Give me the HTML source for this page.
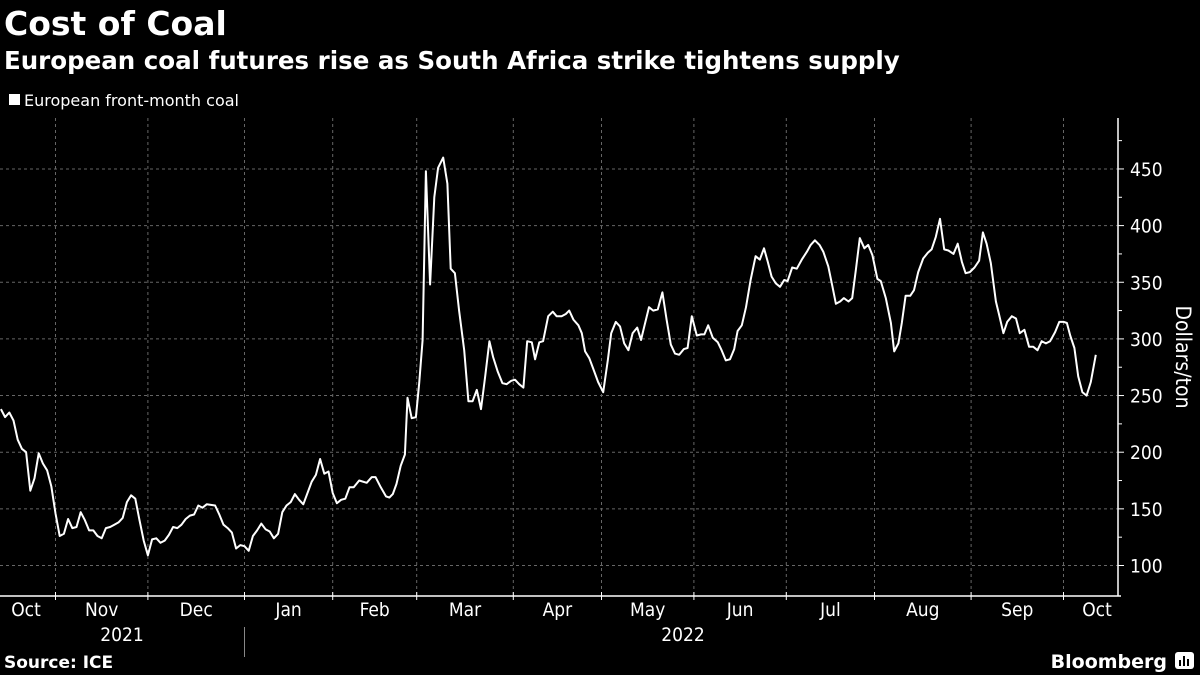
<!DOCTYPE html>
<html><head><meta charset="utf-8"><style>
html,body{margin:0;padding:0;background:#000;width:1200px;height:675px;overflow:hidden}
svg text{fill:#fff}
.t{font-family:"DejaVu Sans","Liberation Sans",sans-serif}
.c{font-family:"DejaVu Sans Condensed","Liberation Sans Narrow","Liberation Sans",sans-serif}
</style></head><body>
<svg id="chart" width="1200" height="675" xmlns="http://www.w3.org/2000/svg">
<text class="t" x="4" y="35" font-size="33" font-weight="bold">Cost of Coal</text>
<text class="t" x="4" y="69" font-size="24.5" font-weight="bold">European coal futures rise as South Africa strike tightens supply</text>
<rect x="9" y="94" width="11" height="11" fill="#fff"/>
<text class="t" x="24" y="106" font-size="16">European front-month coal</text>
<g id="grid"></g>
<g id="axes"></g>
<g id="series"></g>
<text class="c" transform="translate(1176,357) rotate(90)" text-anchor="middle" font-size="21">Dollars/ton</text>
<text class="t" x="4" y="668" font-size="17" font-weight="bold">Source: ICE</text>
<text class="t" x="1167" y="668" text-anchor="end" font-size="19" font-weight="bold">Bloomberg</text>
<g><rect x="1175" y="652" width="19" height="17" rx="3" fill="#fff"/><rect x="1179" y="660" width="2" height="6" fill="#000"/><rect x="1183" y="656" width="2" height="10" fill="#000"/><rect x="1187" y="659" width="2" height="7" fill="#000"/></g>
</svg>
<script>
// trading-day index (0 = 1 Nov 2021)
const days=[-13,-12,-11,-10,-9,-8,-7,-6,-5,-4,-3,-2,-1,0,1,2,3,4,5,6,7,8,9,10,11,12,13,14,15,16,17,18,19,20,21,22,23,24,25,26,27,28,29,30,31,32,33,34,35,36,38,39,40,41,42,43,44,45,46,47,48,49,50,51,52,53,54,55,56,57,58,59,60,61,62,63,64,65,66,67,68,69,70,71,72.3,74.1,75.3,76.2,77.3,78.7,79.5,80.3,81.2,82.2,83.2,83.8,84.8,85.8,86.6,87.4,88.2,89.2,90.2,91.1,92.3,93.3,94.1,95.1,96.1,97.3,98.3,99.3,100.3,101.3,102.3,103.3,104.2,105.3,106.4,107.4,108.5,109.4,110.4,111.4,112.3,113.4,114.2,115.2,116.1,117.3,118.4,119.3,120.5,121.5,122.3,123.3,124.5,125.3,126.1,127.1,128,129.2,130.4,131.5,132.3,133.4,134.4,135.4,136.4,137.4,138.5,139.4,140.2,141.3,142.3,143.4,144.5,145.5,146.5,147.5,148.5,149.6,150.5,151.5,152.7,153.7,154.5,155.4,156.5,157.7,158.6,159.6,160.6,161.6,162.4,163.4,164.4,165.5,166.7,167.7,168.7,169.6,170.5,171.5,172.5,173.5,174.3,175.4,176.5,177.7,178.9,179.8,180.8,181.9,182.8,184,185,185.8,186.8,187.7,188.8,189.7,190.6,191.5,192.6,193.5,194.5,195.7,196.5,197.7,198.9,199.7,200.7,201.5,202.4,203.5,204.4,205.4,206.6,207.7,208.6,209.6,210.6,211.6,212.6,213.8,214.8,215.8,216.7,217.7,218.8,219.9,220.8,221.7,222.7,223.9,224.7,225.7,226.6,227.7,228.7,229.6,230.7,231.8,232.8,233.8,234.8,235.8,236.8,238,239,240.1,240.8,241.6,242.6,243.5,244.5,245.5,246.5,247.7];
const prices=[238,231,235,228,211,203,200,166,177,199,190,184,170,146,126,128,141,133,134,147,140,131,131,126,124,133,134,136,138,142,156,162,159,140,122,109,123,124,120,122,127,134,133,136,141,144,145,153,151,154,153,145,136,133,129,115,118,117,113,126,131,137,132,130,124,128,147,153,156,163,158,154,164,174,180,194,181,183,164,155,158,159,169,169,175,173,178,178,170,161,160,163,172,188,198,248,230,231,261,299,448,348,425,451,460,437,362,358,325,290,245,245,255,238,267,298,284,271,261,260,263,264,260,257,298,297,282,297,298,320,324,320,320,322,325,317,312,305,289,283,274,262,253,281,305,315,311,296,290,305,310,299,311,328,325,326,341,317,295,287,286,291,292,320,303,304,304,312,301,297,290,281,282,291,307,312,328,352,373,370,380,368,355,349,346,352,351,363,362,370,377,383,387,383,377,364,346,331,333,336,333,336,362,389,380,383,374,353,351,336,314,289,296,314,338,338,343,359,371,376,379,390,406,379,378,375,384,368,358,359,363,369,394,384,367,333,321,305,315,320,318,305,308,293,293,290,298,296,298,306,315,315,314,303,292,267,253,250,262,286];
const yTicks=[100,150,200,250,300,350,400,450];
const monthNames=["Oct","Nov","Dec","Jan","Feb","Mar","Apr","May","Jun","Jul","Aug","Sep","Oct"];
const monthStarts=[-21,0,22,45,66,86,109,130,152,174,195,218,240];
const yearLabels=["2021","2022"];

const NS="http://www.w3.org/2000/svg";
const X=d=>55.5+d*4.2;
const Y=v=>565.5-(v-100)*1.133;
const L=0,R=1118,T=118,B=596;
function mk(tag,attrs,parent){const e=document.createElementNS(NS,tag);for(const k in attrs)e.setAttribute(k,attrs[k]);parent.appendChild(e);return e;}
const grid=document.getElementById('grid'),axes=document.getElementById('axes'),series=document.getElementById('series');
yTicks.forEach(v=>{
  const g=mk('line',{x1:L,x2:R,y1:Y(v),y2:Y(v),stroke:'#666','stroke-dasharray':'3,3','stroke-width':1},grid);
  
  
  const t=mk('text',{x:1130,y:Y(v)+7,'font-size':19,class:'c'},axes);
  t.textContent=v;
  
  
  const tk=mk('line',{x1:R,x2:R+6,y1:Y(v),y2:Y(v),stroke:'#fff'},axes);
  
  
  const m=mk('line',{x1:R,x2:R+4,y1:Y(v+25),y2:Y(v+25),stroke:'#fff'},axes);
  
  
});
monthStarts.forEach((d,i)=>{
  if(i>0){
    const g=mk('line',{x1:X(d),x2:X(d),y1:T,y2:B,stroke:'#666','stroke-dasharray':'3,3'},grid);
    
    
    const tk=mk('line',{x1:X(d),x2:X(d),y1:B-4,y2:B+4,stroke:'#fff'},axes);
    
    
  }
  const next=i<monthStarts.length-1?monthStarts[i+1]:248;
  let cx=(X(Math.max(d,-13))+X(next))/2;
  if(i===0)cx=26;
  if(i===monthStarts.length-1)cx=1097;
  const t=mk('text',{x:cx,y:616,'text-anchor':'middle','font-size':19,class:'c'},axes);
  t.textContent=monthNames[i];
  
  
});
[[122,yearLabels[0]],[683,yearLabels[1]]].forEach(([x,s])=>{
  const t=mk('text',{x:x,y:641,'text-anchor':'middle','font-size':19,class:'c'},axes);
  t.textContent=s;
  
  
});
const sep=mk('line',{x1:X(45),x2:X(45),y1:627,y2:657,stroke:'#888'},axes);


const xa=mk('line',{x1:L,x2:R+3,y1:B,y2:B,stroke:'#fff','stroke-width':1.5},axes);


const ya=mk('line',{x1:R,x2:R,y1:T,y2:B,stroke:'#fff','stroke-width':1.5},axes);


const pts=days.map((d,i)=>X(d).toFixed(1)+','+Y(prices[i]).toFixed(1)).join(' ');
const line=mk('polyline',{points:pts,fill:'none',stroke:'#fff','stroke-width':2,'stroke-linejoin':'round'},series);


</script>
</body></html>
